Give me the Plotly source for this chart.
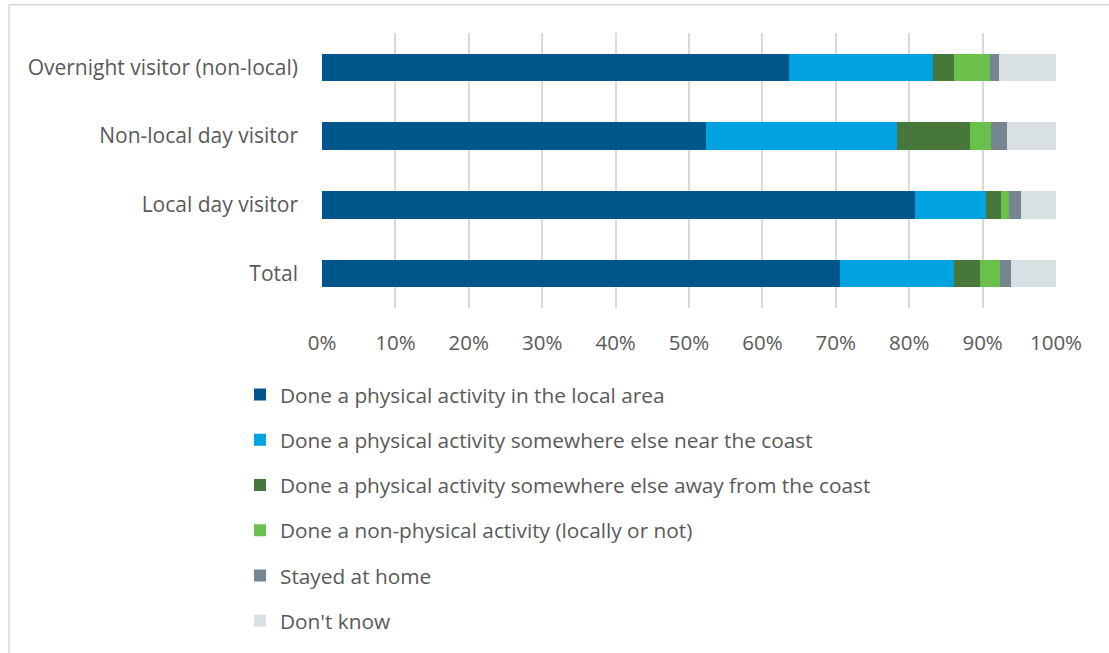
import plotly.graph_objects as go

categories = ["Total", "Local day visitor", "Non-local day visitor", "Overnight visitor (non-local)"]
series_names = [
    "Done a physical activity in the local area",
    "Done a physical activity somewhere else near the coast",
    "Done a physical activity somewhere else away from the coast",
    "Done a non-physical activity (locally or not)",
    "Stayed at home",
    "Don't know",
]
# values per category in order: Total, Local day, Non-local day, Overnight
local_area = [70.6, 80.8, 52.3, 63.6]
near_coast = [15.5, 9.7, 26.0, 19.6]
away_coast = [3.6, 2.0, 10.0, 2.9]
non_physical = [2.7, 1.1, 2.8, 4.9]
stayed_home = [1.5, 1.6, 2.2, 1.3]
dont_know = [6.1, 4.8, 6.7, 7.7]
tick_vals = [0, 10, 20, 30, 40, 50, 60, 70, 80, 90, 100]
tick_text = ["0%", "10%", "20%", "30%", "40%", "50%", "60%", "70%", "80%", "90%", "100%"]

colors = ["#00558B", "#00A3E0", "#47773A", "#6BC04B", "#768592", "#D9E0E3"]
series = [local_area, near_coast, away_coast, non_physical, stayed_home, dont_know]

FONT = "Open Sans"
fig = go.Figure()
for i, (name, vals) in enumerate(zip(series_names, series)):
    fig.add_trace(go.Bar(
        y=categories, x=vals, name=name, orientation="h",
        marker=dict(color=colors[i], line=dict(width=0)),
        legendgroup=str(i),
    ))

L, R, T, B = 322, 1109 - 1056, 33, 653 - 310
W = 1109 - L - R
H = 653 - T - B

fig.update_layout(
    width=1109, height=653,
    barmode="stack", bargap=0.6,
    plot_bgcolor="white", paper_bgcolor="white",
    margin=dict(l=L, r=R, t=T, b=B, pad=0),
    font=dict(family=FONT, color="#595959", size=20),
    xaxis=dict(range=[0, 100], tickvals=tick_vals, ticktext=tick_text,
               showgrid=True, gridcolor="#D9D9D9", gridwidth=1.5,
               zeroline=False, showline=False, ticks="", ticklabelstandoff=20,
               tickfont=dict(size=20.5), fixedrange=True),
    yaxis=dict(showgrid=False, zeroline=False, showline=False, ticks="",
               ticklabelstandoff=23, tickfont=dict(size=21), fixedrange=True),
    legend=dict(orientation="v", x=(240 - L) / W, xanchor="left",
                y=(310 - 377) / H, yanchor="top", traceorder="grouped",
                tracegroupgap=15.2, font=dict(size=20.8, color="#595959"),
                itemclick=False, itemdoubleclick=False),
    showlegend=True,
    shapes=[
        dict(type="line", xref="paper", yref="paper", x0=(9 - L) / W, x1=(1109 - L) / W,
             y0=(310 - 4.5) / H, y1=(310 - 4.5) / H, line=dict(color="#D9D9D9", width=1.5)),
        dict(type="line", xref="paper", yref="paper", x0=(9 - L) / W, x1=(9 - L) / W,
             y0=(310 - 4.5) / H, y1=(310 - 660) / H, line=dict(color="#D9D9D9", width=1.5)),
    ],
)
fig.write_html("out.html")
